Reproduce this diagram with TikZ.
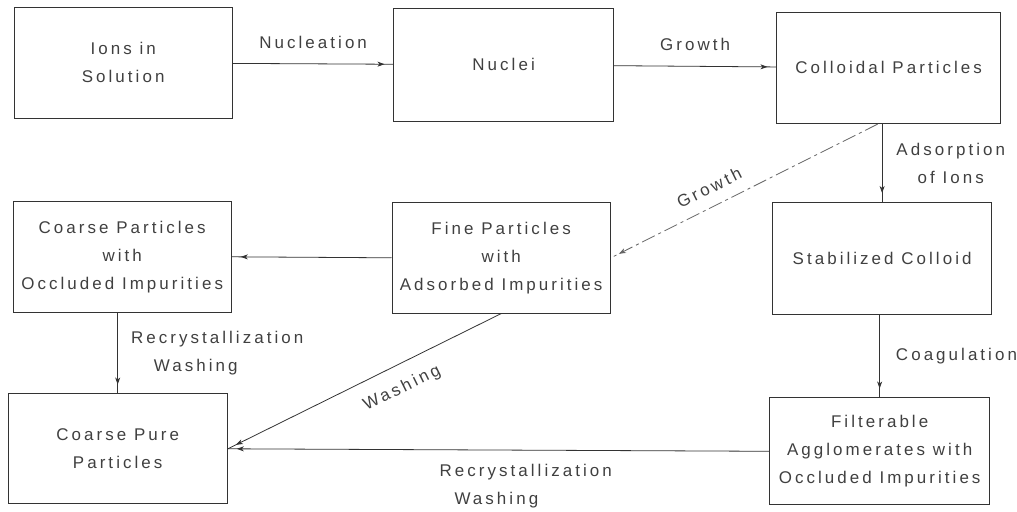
\documentclass[tikz,border=0pt]{standalone}
\usepackage{fontspec}
\setmainfont{Liberation Sans}[LetterSpace=18]
\usetikzlibrary{arrows.meta,decorations.markings}

\begin{document}
\begin{tikzpicture}[x=1pt, y=-1pt, font=\fontsize{17}{28}\selectfont]
	\tikzstyle{box}  = [draw=black!80, line width=0.9pt, minimum width=219pt, minimum height=111pt, inner sep=0pt, align=center, text=black!75]
	\tikzstyle{flow} = [draw=black!80, line width=0.8pt, postaction={decorate},
		decoration={markings, mark=at position -9pt with {\arrow{Stealth[length=7pt, width=5pt, inset=2pt]}}}]
	\tikzstyle{lbl}  = [inner sep=0pt, align=center, text=black!75]

	\path[fill=white] (0,0) rectangle (1017,513);

	% top row
	\node[box, minimum height=112pt] (ions) at (123.5, 63) {Ions in\\Solution};
	\node[box, minimum width=220pt, minimum height=114pt] (nuclei) at (505, 65) {Nuclei};
	\node[box, minimum width=224pt, minimum height=112pt] (colloid) at (891, 68) {Colloidal Particles};

	% middle row
	\node[box] (coarseocc) at (122.5, 257.5) {Coarse Particles\\with\\Occluded Impurities};
	\node[box] (fine) at (502.5, 258.5) {Fine Particles\\with\\Adsorbed Impurities};
	\node[box, minimum height=112pt] (stab) at (884.5, 259) {Stabilized Colloid};

	% bottom row
	\node[box, minimum width=220pt, minimum height=110pt] (pure) at (118, 450) {Coarse Pure\\Particles};
	\node[box, minimum width=220pt, minimum height=107pt] (filt) at (882, 452.5) {Filterable\\Agglomerates with\\Occluded Impurities};

	\foreach \from/\to/\txt in {ions/nuclei/Nucleation, nuclei/colloid/Growth}
		\draw[flow] (\from) -- node[lbl, above=15pt] {\txt} (\to);

	\draw[flow] (stab |- colloid.south) -- node[lbl, right=14pt] {Adsorption\\of Ions} (stab);
	\draw[flow] (filt |- stab.south) -- node[lbl, right=16pt] {Coagulation} (filt);
	\draw[flow, draw=black!60, dash pattern=on 14pt off 4pt on 3pt off 4pt]
		([xshift=-11pt]colloid.south) -- node[lbl, sloped, above=12pt, pos=0.6] {Growth} (fine.east);

	\draw[flow] (fine.west) -- (coarseocc.east);
	\draw[flow] (pure |- coarseocc.south) -- node[lbl, right=13pt, align=left] {Recrystallization\\\hspace*{23pt}Washing} (pure);
	\draw[flow] (fine.south) -- node[lbl, sloped, below=15pt, pos=0.4] {Washing} (pure.east);
	\draw[flow] (filt.west) -- node[lbl, below=14pt, pos=0.45, align=left] {Recrystallization\\\hspace*{15pt}Washing} (pure.east);

\end{tikzpicture}
\end{document}
